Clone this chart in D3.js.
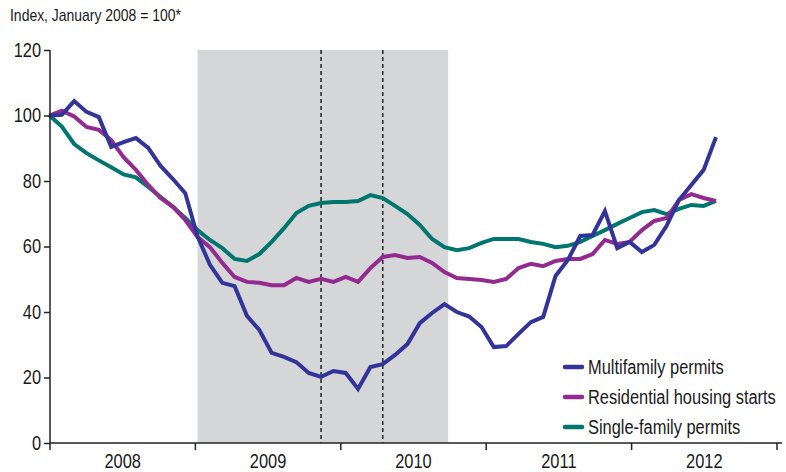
<!DOCTYPE html>
<html>
<head>
<meta charset="utf-8">
<style>
  body { margin: 0; background: #fff; }
  svg text { font-family: "Liberation Sans", Arial, sans-serif; fill: #1a1a1a; }
</style>
</head>
<body>
<svg width="786" height="472"></svg>
<script src="https://d3js.org/d3.v7.min.js"></script>
<script>

// monthly index values, Jan 2008 .. Jul 2012 (Jan 2008 = 100)
var multifamily = [100, 100.2, 104.4, 101.1, 99.5, 90.4, 91.9, 93.1, 90.1, 84.6, 80.6, 76.3,
  63, 54.4, 48.9, 47.9, 38.8, 34.5, 27.5, 26.3, 24.7, 21.4, 20.2, 22,
  21.4, 16.5, 23.2, 24.1, 26.9, 30.2, 36.6, 39.7, 42.4, 40, 38.6, 35.4,
  29.3, 29.6, 33.3, 36.9, 38.5, 51, 55.9, 63.2, 63.5, 70.8, 59.5, 61.4,
  58.3, 60.5, 66.3, 74.2, 78.8, 83.4, 93.4];

var starts = [100, 101.5, 99.7, 96.5, 95.6, 92.5, 87.3, 83.4, 78.8, 74.8, 72.1, 68.1,
  62.9, 59.8, 55, 50.7, 49.2, 48.9, 48.2, 48.2, 50.4, 49.2, 50.1, 49.2,
  50.7, 49.2, 53.4, 56.8, 57.4, 56.5, 56.8, 55, 52.2, 50.4, 50.1, 49.8,
  49.2, 50.1, 53.4, 54.7, 54, 55.6, 56.2, 56.2, 57.7, 62, 60.8, 61.4,
  65, 67.8, 68.7, 74.2, 76, 74.8, 73.9];

var singleFamily = [100, 96.6, 91.3, 88.5, 86.3, 84.2, 82, 81.1, 78.2, 75.1, 72.1, 68.7,
  65, 62, 59.5, 56.2, 55.6, 57.7, 61.4, 65.6, 70.2, 72.4, 73.3, 73.6,
  73.6, 73.9, 75.7, 74.8, 72.4, 69.9, 66.6, 62.3, 59.8, 58.9, 59.5, 61.1,
  62.3, 62.3, 62.3, 61.4, 60.8, 59.8, 60.2, 61.4, 63.2, 65, 66.9, 68.7,
  70.5, 71.1, 69.9, 71.5, 72.7, 72.4, 73.9];

var years = ["2008", "2009", "2010", "2011", "2012"];
var yTicks = [0, 20, 40, 60, 80, 100, 120];

// tax credit period and deadlines, in months since Jan 2008
var creditPeriod = [12, 32.3];
var deadlines = [22, 27];

var seriesNames = ["Multifamily permits", "Residential housing starts", "Single-family permits"];
var seriesData = [multifamily, starts, singleFamily];
var colors = ["#33349a", "#932a8f", "#00766f"];

var svg = d3.select("svg");

var x = d3.scaleLinear().domain([0, 54]).range([49.5, 716]);
var xYear = d3.scaleBand().domain(years).range([50, 777]);
var y = d3.scaleLinear().domain([0, 120]).range([443, 50]);

// shaded tax credit period
svg.append("rect")
  .attr("x", x(creditPeriod[0]))
  .attr("y", y(120))
  .attr("width", x(creditPeriod[1]) - x(creditPeriod[0]))
  .attr("height", y(0) - y(120))
  .attr("fill", "#d5d6d8");

svg.selectAll(".deadline")
  .data(deadlines)
  .enter().append("line")
  .attr("class", "deadline")
  .attr("x1", function(d) { return x(d); })
  .attr("x2", function(d) { return x(d); })
  .attr("y1", y(120))
  .attr("y2", y(0))
  .attr("stroke", "#222")
  .attr("stroke-width", 1.5)
  .attr("stroke-dasharray", "4,3");

// lines, single-family at the bottom
var line = d3.line()
  .x(function(d, i) { return x(i); })
  .y(function(d) { return y(d); });

[2, 1, 0].forEach(function(k) {
  svg.append("path")
    .datum(seriesData[k])
    .attr("d", line)
    .attr("fill", "none")
    .attr("stroke", colors[k])
    .attr("stroke-width", 4);
});

// y axis
var yAxis = svg.append("g")
  .attr("transform", "translate(50,0)")
  .call(d3.axisLeft(y).tickValues(yTicks).tickSize(6).tickPadding(3));
yAxis.select(".domain").attr("stroke", "#222").attr("stroke-width", 1.5).attr("d", "M0," + y(120) + "V" + y(0));
yAxis.selectAll(".tick line").attr("stroke", "#222").attr("stroke-width", 1.5);
yAxis.selectAll(".tick text").attr("font-size", 20).attr("fill", "#1a1a1a");

// x axis: year bands
var xAxis = svg.append("g").attr("transform", "translate(0," + y(0) + ")");
xAxis.append("line")
  .attr("x1", 50).attr("x2", 782)
  .attr("stroke", "#222").attr("stroke-width", 1.5);
xAxis.selectAll(".ytick")
  .data(years.concat(["end"]))
  .enter().append("line")
  .attr("class", "ytick")
  .attr("x1", function(d, i) { return i < years.length ? xYear(d) : xYear.range()[1]; })
  .attr("x2", function(d, i) { return i < years.length ? xYear(d) : xYear.range()[1]; })
  .attr("y1", 0).attr("y2", 7)
  .attr("stroke", "#222").attr("stroke-width", 1.5);
xAxis.selectAll(".ylabel")
  .data(years)
  .enter().append("text")
  .attr("class", "ylabel")
  .attr("x", function(d) { return xYear(d) + xYear.bandwidth() / 2; })
  .attr("y", 25)
  .attr("text-anchor", "middle")
  .attr("font-size", 20)
  .text(function(d) { return d; });

// title
svg.append("text")
  .attr("x", 10)
  .attr("y", 21)
  .attr("font-size", 17)
  .text("Index, January 2008 = 100*");

// legend
var legend = svg.append("g")
  .selectAll("g")
  .data(seriesNames)
  .enter().append("g")
  .attr("transform", function(d, i) { return "translate(565," + (367 + i * 30) + ")"; });

legend.append("line")
  .attr("x1", 0).attr("x2", 17)
  .attr("stroke", function(d, i) { return colors[i]; })
  .attr("stroke-width", 4.5)
  .attr("stroke-linecap", "round");

legend.append("text")
  .attr("x", 23)
  .attr("dy", "0.36em")
  .attr("font-size", 20)
  .text(function(d) { return d; });

// no narrow font installed: squeeze the glyphs to a condensed width
svg.selectAll("text").each(function() {
  var w = this.getComputedTextLength();
  d3.select(this).attr("textLength", w * 0.82).attr("lengthAdjust", "spacingAndGlyphs");
});

</script>
</body>
</html>
